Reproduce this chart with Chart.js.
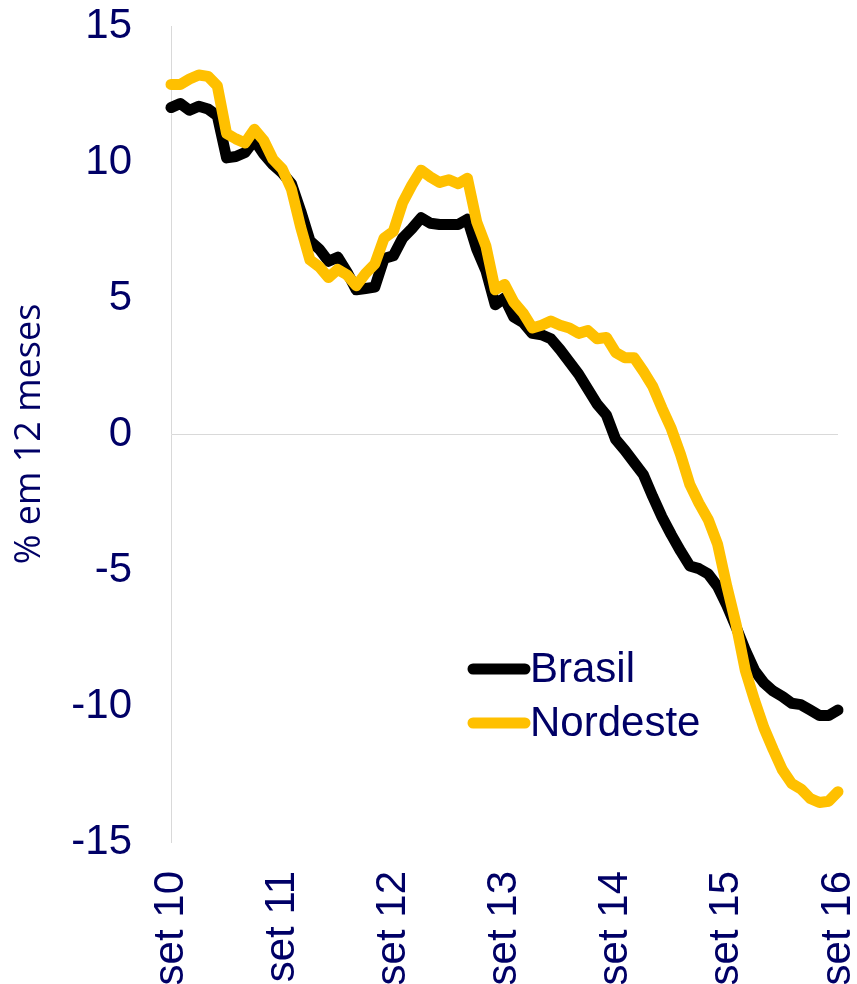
<!DOCTYPE html>
<html lang="pt">
<head>
<meta charset="utf-8">
<script src="https://cdn.jsdelivr.net/npm/chart.js@4"></script>
<style>
  html, body { margin: 0; padding: 0; background: #fff; }
</style>
</head>
<body>
<canvas id="grafico" width="857" height="984"></canvas>
<script>
// Categorias: meses de set/10 a set/16
const meses = ['set', 'out', 'nov', 'dez', 'jan', 'fev', 'mar', 'abr', 'mai', 'jun', 'jul', 'ago'];
const anoInicial = 10;
const totalMeses = 73;

// Variação em 12 meses (%)
const brasil = [
  12.0, 12.15, 11.9, 12.05, 11.95, 11.7, 10.15, 10.2, 10.35, 10.8, 10.3, 9.9,
  9.6, 9.2, 8.2, 7.1, 6.8, 6.35, 6.5, 5.95, 5.3, 5.35, 5.4, 6.45,
  6.55, 7.2, 7.55, 7.95, 7.75, 7.7, 7.7, 7.7, 7.9, 6.8, 6.0, 4.75,
  5.0, 4.3, 4.1, 3.7, 3.65, 3.5, 3.1, 2.65, 2.2, 1.65, 1.1, 0.7,
  -0.2, -0.6, -1.05, -1.5, -2.3, -3.05, -3.7, -4.3, -4.85, -4.95, -5.15, -5.6,
  -6.3, -7.1, -7.95, -8.7, -9.15, -9.45, -9.65, -9.9, -9.95, -10.15, -10.35, -10.35,
  -10.15
];
const nordeste = [
  12.85, 12.85, 13.05, 13.2, 13.15, 12.8, 11.05, 10.85, 10.7, 11.2, 10.8, 10.1,
  9.75, 9.0, 7.6, 6.4, 6.15, 5.75, 6.05, 5.85, 5.45, 5.9, 6.25, 7.2,
  7.45, 8.5, 9.15, 9.7, 9.45, 9.25, 9.35, 9.2, 9.4, 7.8, 6.9, 5.3,
  5.5, 4.85, 4.45, 3.9, 4.0, 4.15, 4.0, 3.9, 3.7, 3.8, 3.5, 3.55,
  3.0, 2.8, 2.8, 2.3, 1.75, 0.95, 0.2, -0.75, -1.85, -2.55, -3.15, -4.05,
  -5.6, -7.0, -8.7, -9.8, -10.8, -11.6, -12.35, -12.85, -13.05, -13.4, -13.55, -13.5,
  -13.15
];

const eixoY = { min: -15, max: 15, passo: 5 };
const tituloY = '% em 12 meses';

const labels = [];
for (let i = 0; i < totalMeses; i++) {
  const ano = anoInicial + Math.floor((i + 8) / 12);
  labels.push(meses[i % 12] + ' ' + ano);
}

const AZUL = '#000066';
const FONTE = "'Liberation Sans', Arial, sans-serif";

Chart.defaults.font.family = FONTE;
Chart.defaults.color = AZUL;

// Legenda desenhada dentro da área do gráfico (canto inferior direito)
const legendaInterna = {
  id: 'legendaInterna',
  afterDraw(chart) {
    const ctx = chart.ctx;
    const linhas = [669, 723];
    ctx.save();
    chart.data.datasets.forEach((ds, i) => {
      const y = linhas[i];
      ctx.beginPath();
      ctx.lineWidth = 11;
      ctx.lineCap = 'round';
      ctx.strokeStyle = ds.borderColor;
      ctx.moveTo(473, y);
      ctx.lineTo(525, y);
      ctx.stroke();
      ctx.fillStyle = AZUL;
      ctx.font = '42px ' + FONTE;
      ctx.textBaseline = 'middle';
      ctx.textAlign = 'left';
      ctx.fillText(ds.label, 530, y + 1);
    });
    ctx.restore();
  }
};

new Chart(document.getElementById('grafico').getContext('2d'), {
  type: 'line',
  data: {
    labels,
    datasets: [
      {
        label: 'Brasil',
        data: brasil,
        borderColor: '#000000',
        borderWidth: 11,
        pointRadius: 0,
        tension: 0,
        borderJoinStyle: 'round',
        borderCapStyle: 'round',
        clip: false,
        order: 2
      },
      {
        label: 'Nordeste',
        data: nordeste,
        borderColor: '#FFC000',
        borderWidth: 11,
        pointRadius: 0,
        tension: 0,
        borderJoinStyle: 'round',
        borderCapStyle: 'round',
        clip: false,
        order: 1
      }
    ]
  },
  options: {
    responsive: false,
    animation: false,
    layout: { padding: { top: 26, right: 19, left: 0, bottom: 0 } },
    scales: {
      x: {
        grid: { display: false, drawTicks: false },
        border: { display: false },
        ticks: {
          autoSkip: false,
          minRotation: 90,
          maxRotation: 90,
          padding: 29,
          font: { size: 42 },
          callback: (v, i) => (i % 12 === 0 ? labels[i] : '')
        },
        afterFit: s => { s.height = 142; s.paddingLeft = 0; s.paddingRight = 0; }
      },
      y: {
        min: eixoY.min,
        max: eixoY.max,
        ticks: { stepSize: eixoY.passo, padding: 39, font: { size: 42 } },
        grid: {
          drawTicks: false,
          color: c => (c.tick && c.tick.value === 0 ? '#d9d9d9' : 'rgba(0,0,0,0)')
        },
        border: { display: true, color: '#d9d9d9' },
        title: {
          display: true,
          text: tituloY,
          color: AZUL,
          font: { family: "'Open Sans', 'Noto Sans', sans-serif", size: 36 },
          padding: { top: 8, bottom: 0 }
        },
        afterFit: s => { s.width = 171; s.paddingTop = 0; s.paddingBottom = 0; }
      }
    },
    plugins: {
      legend: { display: false },
      tooltip: { enabled: false }
    }
  },
  plugins: [legendaInterna]
});
</script>
</body>
</html>
